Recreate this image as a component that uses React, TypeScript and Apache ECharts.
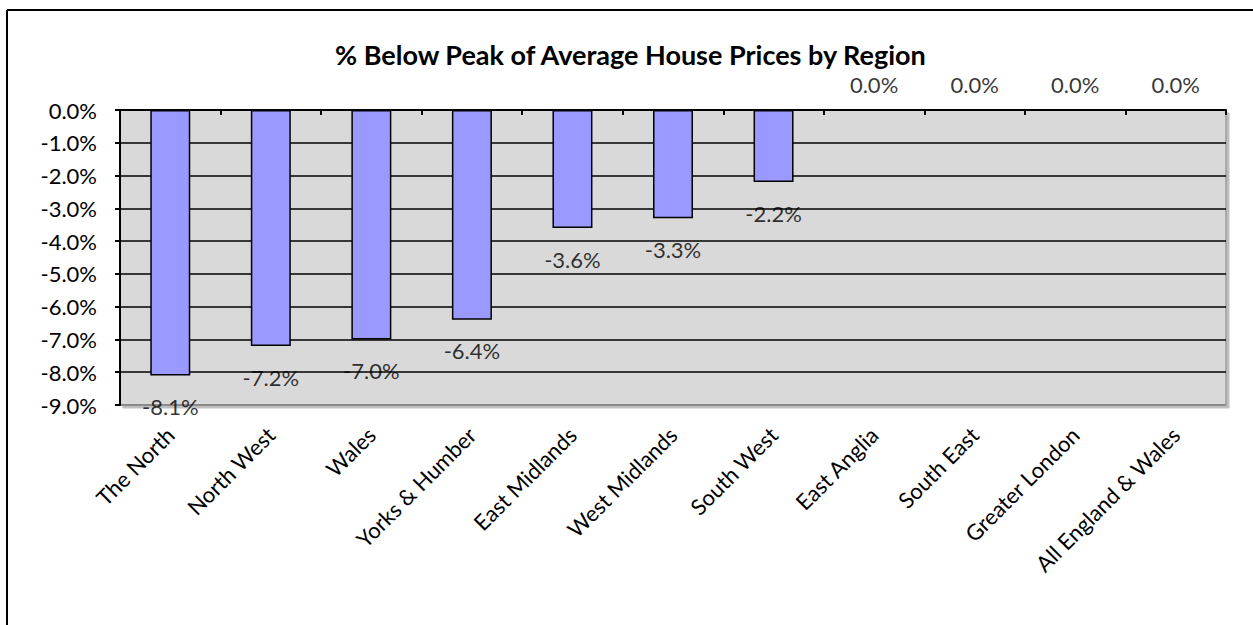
import React, { useEffect, useRef } from "react";
import * as echarts from "echarts";

const categories = [
  "The North",
  "North West",
  "Wales",
  "Yorks & Humber",
  "East Midlands",
  "West Midlands",
  "South West",
  "East Anglia",
  "South East",
  "Greater London",
  "All England & Wales",
];
const belowPeak = [-8.1, -7.2, -7.0, -6.4, -3.6, -3.3, -2.2, 0.0, 0.0, 0.0, 0.0];
const titleText = "% Below Peak of Average House Prices by Region";
const yMin = -9;
const yMax = 0;
const yStep = 1;

const FONT = "Lato, 'Noto Sans', sans-serif";
const fmt = (v: number) => v.toFixed(1) + "%";

export default function App() {
  const ref = useRef<HTMLDivElement>(null);
  useEffect(() => {
    if (!ref.current) return;
    const chart = echarts.init(ref.current, undefined, { renderer: "svg" });
    const nTicks = Math.round((yMax - yMin) / yStep);
    const splitColors = ["#808080"].concat(Array(nTicks).fill("#000000"));
    chart.setOption({
      animation: false,
      backgroundColor: "#ffffff",
      textStyle: { fontFamily: FONT },
      title: {
        text: titleText,
        left: 330,
        top: 36,
        textStyle: { fontFamily: FONT, fontSize: 27, fontWeight: "bold", color: "#000" },
      },
      graphic: [
        { type: "line", shape: { x1: 7, y1: 10, x2: 1253, y2: 10 }, style: { stroke: "#000", lineWidth: 2 } },
        { type: "line", shape: { x1: 7, y1: 10, x2: 7, y2: 625 }, style: { stroke: "#000", lineWidth: 2 } },
      ],
      grid: {
        left: 120,
        top: 110,
        width: 1106,
        height: 295,
        show: true,
        backgroundColor: "#D9D9D9",
        borderColor: "#808080",
        borderWidth: 1,
        shadowColor: "rgba(0,0,0,0.25)",
        shadowOffsetX: 3,
        shadowOffsetY: 3,
        shadowBlur: 0,
      },
      xAxis: [
        {
          type: "category",
          data: categories,
          position: "bottom",
          boundaryGap: true,
          axisLine: { show: false, onZero: false },
          axisTick: { show: false },
          axisLabel: {
            rotate: 45,
            margin: 26,
            fontSize: 22,
            color: "#000",
            fontFamily: FONT,
            interval: 0,
          },
          splitLine: { show: false },
        },
        {
          type: "category",
          data: categories,
          position: "top",
          boundaryGap: true,
          axisLine: { show: true, onZero: false, lineStyle: { color: "#000", width: 2 } },
          axisTick: { show: true, inside: true, length: 5, interval: 0, lineStyle: { color: "#000", width: 2 } },
          axisLabel: { show: false },
          splitLine: { show: false },
        },
      ],
      yAxis: {
        type: "value",
        min: yMin,
        max: yMax,
        interval: yStep,
        axisLine: { show: true, lineStyle: { color: "#000", width: 2 } },
        axisTick: { show: true, length: 5, lineStyle: { color: "#000", width: 2 } },
        axisLabel: { formatter: (v: number) => fmt(v), fontSize: 22, color: "#000", margin: 23, fontFamily: FONT },
        splitLine: { show: true, lineStyle: { color: splitColors, width: 1.5 } },
      },
      series: [
        {
          type: "bar",
          xAxisIndex: 0,
          yAxisIndex: 0,
          data: belowPeak,
          barWidth: 40,
          itemStyle: { color: "#9999FF", borderColor: "#000", borderWidth: 1.5 },
          label: { show: false },
          z: 3,
        },
        {
          type: "scatter",
          xAxisIndex: 0,
          yAxisIndex: 0,
          symbolSize: 0,
          silent: true,
          z: 4,
          data: belowPeak.map((v) => ({
            value: v,
            label: { offset: [0, v < 0 ? 31 : -26] },
          })),
          label: {
            show: true,
            position: "inside",
            formatter: (p: any) => fmt(p.value),
            fontSize: 22,
            color: "#000",
            fontFamily: FONT,
          },
        },
      ],
    });
    return () => chart.dispose();
  }, []);
  return (
    <div
      ref={ref}
      style={{ position: "fixed", left: 0, top: 0, width: 1253, height: 625 }}
    />
  );
}
